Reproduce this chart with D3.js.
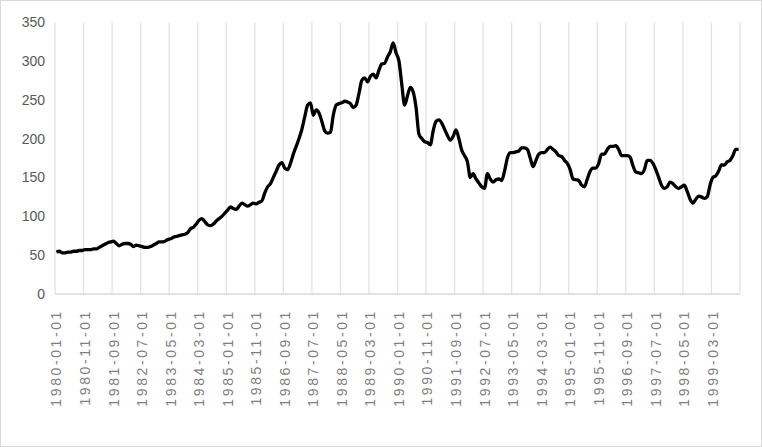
<!DOCTYPE html>
<html><head><meta charset="utf-8">
<script src="https://cdn.jsdelivr.net/npm/d3@7"></script>
<style>body{margin:0;background:#fff}svg{display:block}</style>
</head><body><svg id="c" width="762" height="447"></svg>
<script>
const values = [
54,55,53,53,54,54,55,55,56,56,57,57,
57,58,58,60,62,64,66,67,68,65,62,64,
65,65,64,61,63,62,61,60,60,61,63,65,
67,67,68,70,71,73,74,75,76,77,79,84,
86,90,95,97,93,89,88,90,94,97,100,104,
108,112,110,109,113,117,115,113,115,117,116,118,
120,130,138,142,150,158,166,169,162,160,168,180,
190,200,212,228,243,246,230,237,233,222,210,207,
208,230,243,245,246,248,247,245,240,243,258,275,
278,273,280,283,278,288,296,297,305,312,323,310,
300,270,243,255,266,260,240,206,200,196,195,192,
210,222,224,220,212,204,198,203,211,200,185,178,
170,150,155,148,143,138,136,155,148,144,147,148,
146,158,175,182,182,183,184,188,188,186,175,164,
172,180,182,182,186,189,186,183,178,177,172,168,
160,148,147,146,140,138,148,158,162,162,168,180,
180,186,190,190,191,186,178,178,178,176,165,157,
156,155,160,172,172,168,160,150,140,136,138,144,
142,138,136,138,140,132,122,117,122,126,125,123,
125,140,150,152,158,166,166,170,172,178,186,186];
const categories = values.map((v,i)=>{const y=1980+Math.floor(i/12),m=i%12+1;return y+"-"+String(m).padStart(2,"0")+"-01";});
const yTicks = [0,50,100,150,200,250,300,350];

const svg=d3.select("#c");
svg.append("rect").attr("x",0.5).attr("y",0.5).attr("width",761).attr("height",446).attr("fill","#fff").attr("stroke","#d9d9d9");
const L=55,R=740,T=22,B=294;
const x=d3.scaleBand().domain(categories).range([L,R]);
const y=d3.scaleLinear().domain([0,350]).range([B,T]);
const gridIdx=d3.range(0,categories.length+1,10);
svg.append("g").selectAll("line").data(gridIdx).join("line")
 .attr("x1",i=>L+i*x.step()).attr("x2",i=>L+i*x.step()).attr("y1",T).attr("y2",B)
 .attr("stroke","#e3e3e3").attr("stroke-width",1.3);
svg.append("line").attr("x1",L).attr("x2",R).attr("y1",B).attr("y2",B).attr("stroke","#d9d9d9").attr("stroke-width",1.5);
svg.append("g").selectAll("text").data(yTicks).join("text")
 .attr("x",45).attr("y",d=>y(d)+5).attr("text-anchor","end")
 .attr("font-family","Liberation Sans, Arial").attr("font-size",14).attr("fill","#595959").text(d=>d);
const lab=categories.filter((c,i)=>i%10===0);
svg.append("g").selectAll("text").data(lab).join("text")
 .attr("transform",d=>`translate(${x(d)+x.bandwidth()/2+5},${309}) rotate(-90)`)
 .attr("text-anchor","end").attr("font-family","Liberation Sans, Arial").attr("font-size",14)
 .attr("letter-spacing","2.6px").attr("fill","#7f7f7f").text(d=>d);
const line=d3.line().x((d,i)=>x(categories[i])+x.bandwidth()/2).y(d=>y(d)).curve(d3.curveMonotoneX);
svg.append("path").datum(values).attr("d",line).attr("fill","none").attr("stroke","#000").attr("stroke-width",3.3).attr("stroke-linejoin","round");
</script></body></html>
